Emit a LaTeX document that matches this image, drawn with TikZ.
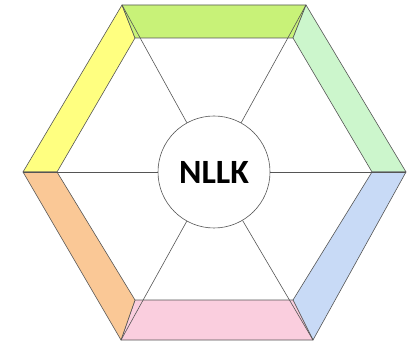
\documentclass[tikz,border=0pt]{standalone}
\usepackage{fontspec}
\setsansfont{Carlito}
\definecolor{linegray}{RGB}{85,85,85}
\definecolor{bandyellow}{RGB}{255,255,128}
\definecolor{bandlime}{RGB}{200,242,120}
\definecolor{bandmint}{RGB}{204,246,204}
\definecolor{bandblue}{RGB}{200,218,246}
\definecolor{bandpink}{RGB}{250,206,222}
\definecolor{bandorange}{RGB}{250,200,150}
\begin{document}
\begin{tikzpicture}[x=1pt, y=-1pt,
    band/.style={draw=linegray, line width=0.6pt, line join=round},
    spoke/.style={draw=linegray, line width=0.6pt}]
    \useasboundingbox (0,0) rectangle (417,344);

    % Hexagono exterior
    \coordinate (o1) at (122,5);
    \coordinate (o2) at (306,5);
    \coordinate (o3) at (406,172);
    \coordinate (o4) at (313,340);
    \coordinate (o5) at (121,340);
    \coordinate (o6) at (23,172);

    % Hexagono interior
    \coordinate (i1) at (135,38);
    \coordinate (i2) at (293,38);
    \coordinate (i3) at (372,172);
    \coordinate (i4) at (293,300);
    \coordinate (i5) at (135,300);
    \coordinate (i6) at (57,172);

    % Faixas coloridas
    \draw[band, fill=bandyellow] (o6) -- (o1) -- (i1) -- (i6) -- cycle;
    \draw[band, fill=bandlime]   (o1) -- (o2) -- (i2) -- (i1) -- cycle;
    \draw[band, fill=bandmint]   (o2) -- (o3) -- (i3) -- (i2) -- cycle;
    \draw[band, fill=bandblue]   (o3) -- (o4) -- (i4) -- (i3) -- cycle;
    \draw[band, fill=bandpink]   (o4) -- (o5) -- (i5) -- (i4) -- cycle;
    \draw[band, fill=bandorange] (o5) -- (o6) -- (i6) -- (i5) -- cycle;

    % Circulo central
    \node[circle, draw=linegray, line width=0.6pt, fill=white, minimum size=112pt, inner sep=0pt,
          font=\sffamily\bfseries\fontsize{34}{34}\selectfont] (core) at (214,172) {NLLK};

    % Raios
    \draw[spoke] (core) -- (o1);
    \draw[spoke] (core) -- (o2);
    \draw[spoke] (core) -- (o3);
    \draw[spoke] (core) -- (o4);
    \draw[spoke] (core) -- (o5);
    \draw[spoke] (core) -- (o6);
\end{tikzpicture}
\end{document}
